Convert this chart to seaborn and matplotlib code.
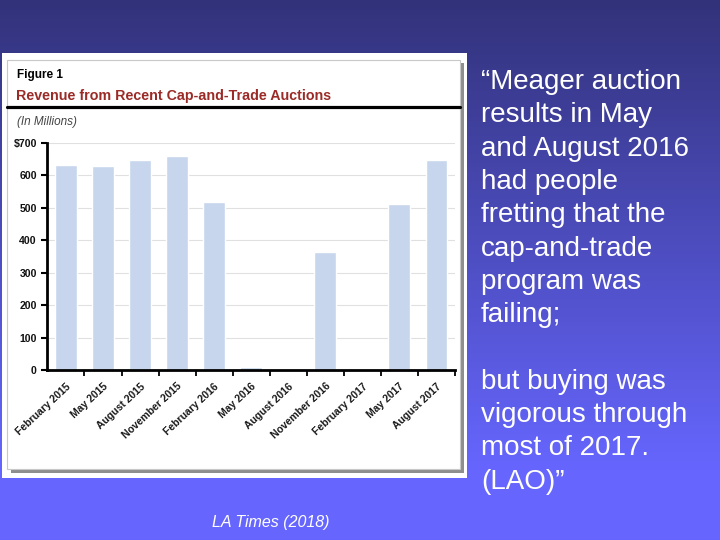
import numpy as np
import pandas as pd
import matplotlib
matplotlib.use("Agg")
import matplotlib.pyplot as plt
import seaborn as sns
from matplotlib.patches import Rectangle
from matplotlib.colors import to_rgb

# ---- data ----
auctions = ["February 2015", "May 2015", "August 2015", "November 2015",
            "February 2016", "May 2016", "August 2016", "November 2016",
            "February 2017", "May 2017", "August 2017"]
revenue = [631, 628, 646, 659, 518, 9, 4, 363, 3, 512, 647]
ytick_vals = [0, 100, 200, 300, 400, 500, 600, 700]
ytick_labels = ["0", "100", "200", "300", "400", "500", "600", "$700"]

quote = ("\u201cMeager auction\nresults in May\nand August 2016\nhad people\n"
         "fretting that the\ncap-and-trade\nprogram was\nfailing;\n\n"
         "but buying was\nvigorous through\nmost of 2017.\n(LAO)\u201d")

sns.set_theme(style="white")
plt.rcParams['font.family'] = ['Liberation Sans', 'DejaVu Sans']

W, H = 720, 540
fig = plt.figure(figsize=(W / 100, H / 100), dpi=100)

def fx(x):
    return x / W

def fy(y):
    return 1 - y / H

# background gradient
bg = fig.add_axes([0, 0, 1, 1], zorder=0)
top_c = np.array(to_rgb("#32327a"))
bot_c = np.array(to_rgb("#6666ff"))
ys = np.arange(H)
t = np.clip(ys / 470.0, 0, 1)[:, None]
grad = top_c[None, :] * (1 - t) + bot_c[None, :] * t
img = np.repeat(grad[:, None, :], 4, axis=1)
bg.imshow(img, aspect="auto", extent=[0, 1, 0, 1], origin="upper")
bg.set_xlim(0, 1)
bg.set_ylim(0, 1)
bg.axis("off")

def rect(x0, y0, x1, y1, **kw):
    r = Rectangle((fx(x0), fy(y1)), fx(x1) - fx(x0), fy(y0) - fy(y1),
                  transform=fig.transFigure, **kw)
    fig.patches.append(r)
    return r

# white panel, shadow, inner box
rect(2, 53, 467, 478, facecolor="white", edgecolor="none", zorder=1)
rect(11, 63, 464, 473, facecolor="#8e8e8e", edgecolor="none", zorder=1)
rect(7, 60, 460, 469, facecolor="white", edgecolor="#c8c8c8", linewidth=0.8, zorder=1)
# black rule under title
fig.add_artist(plt.Line2D([fx(7), fx(460)], [fy(107), fy(107)],
                          transform=fig.transFigure, color="black", linewidth=2.3, zorder=2))

fig.text(fx(17), fy(75), "Figure 1", fontsize=8.5, fontweight="bold",
         color="black", va="center", ha="left", zorder=3)
fig.text(fx(16), fy(96), "Revenue from Recent Cap-and-Trade Auctions", fontsize=10.3,
         fontweight="bold", color="#9b2b27", va="center", ha="left", zorder=3)
fig.text(fx(17), fy(122), "(In Millions)", fontsize=8.5, fontstyle="italic",
         color="#444444", va="center", ha="left", zorder=3)

# chart axes
ax = fig.add_axes([fx(46.7), fy(370), fx(455) - fx(46.7), fy(142.7) - fy(370)], zorder=3)
ax.patch.set_alpha(0)
df = pd.DataFrame({"auction": auctions, "revenue": revenue})
sns.barplot(data=df, x="auction", y="revenue", color="#c7d6ec", saturation=1,
            width=0.59, ax=ax, zorder=2)
ax.set_xlim(-0.52, len(auctions) - 1 + 0.47)
ax.set_ylim(0, 700)
ax.set_yticks(ytick_vals)
ax.set_yticklabels(ytick_labels, fontsize=7.6, fontweight="bold", color="#111111")
ax.yaxis.grid(True, color="#e0e0e0", linewidth=0.8, zorder=0)
ax.set_axisbelow(True)
ax.set_xlabel("")
ax.set_ylabel("")
for s in ["top", "right"]:
    ax.spines[s].set_visible(False)
for s in ["left", "bottom"]:
    ax.spines[s].set_color("black")
    ax.spines[s].set_linewidth(2)
ax.tick_params(axis="y", which="major", direction="out", length=4, width=1.5,
               color="black", left=True, pad=3)
ax.set_xticks(range(len(auctions)))
ax.set_xticklabels(auctions, rotation=43, ha="right", rotation_mode="anchor",
                   fontsize=7.5, fontweight="bold", color="#1a1a1a")
ax.tick_params(axis="x", which="major", length=0, pad=8)
ax.set_xticks([i + 0.5 for i in range(len(auctions))], minor=True)
ax.tick_params(axis="x", which="minor", direction="out", length=4, width=1.3,
               color="black", bottom=True)

# right-hand quote
fig.text(fx(481), fy(69), quote, fontsize=20, color="white", ha="left", va="top",
         linespacing=1.365, zorder=3)
fig.text(fx(271), fy(522), "LA Times (2018)", fontsize=11.5, fontstyle="italic",
         color="white", ha="center", va="center", zorder=3)

fig.savefig("out.png", dpi=100)
